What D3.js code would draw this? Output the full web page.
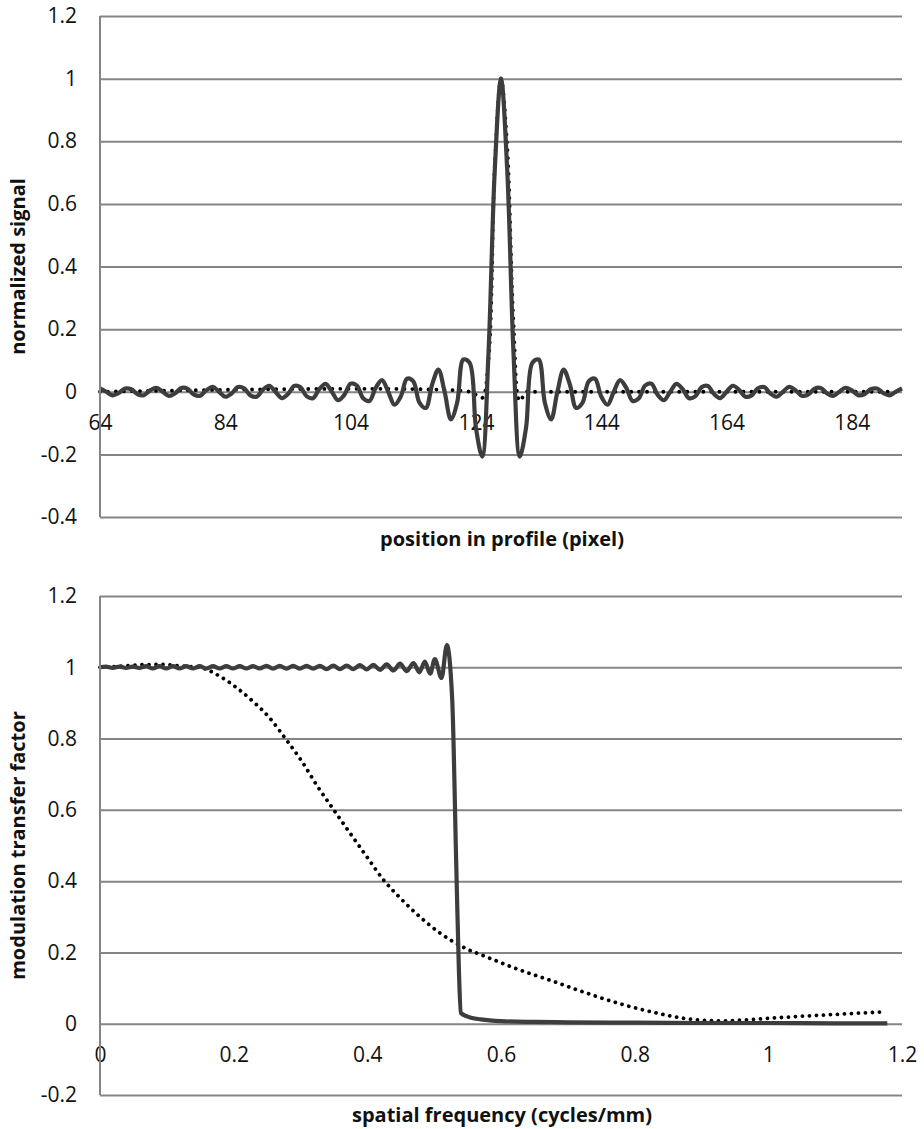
<!DOCTYPE html>
<html>
<head>
<meta charset="utf-8">
<script src="https://cdn.jsdelivr.net/npm/d3@7"></script>
<style>
  body { margin: 0; background: #fff; }
  text { font-family: "Open Sans", sans-serif; fill: #111; }
  .tick line { stroke: #858585; stroke-width: 2; }
  .tick text { font-size: 21px; }
  .title { font-size: 20px; font-weight: bold; }
</style>
</head>
<body>
<svg width="924" height="1129"></svg>
<script>
var svg = d3.select("svg");

// ---- top chart: profile ----
var profPos = d3.range(64, 193);
var profSolid = [
  0.0110, 0, -0.0114, -0.0040, 0.0103, 0.0078, -0.0079, -0.0109, 0.0044, 0.0128,
  0, -0.0133, -0.0047, 0.0122, 0.0092, -0.0094, -0.0129, 0.0052, 0.0153, 0,
  -0.0160, -0.0057, 0.0148, 0.0112, -0.0115, -0.0159, 0.0064, 0.0191, 0, -0.0201,
  -0.0072, 0.0188, 0.0144, -0.0148, -0.0207, 0.0084, 0.0252, 0, -0.0271, -0.0098,
  0.0258, 0.0200, -0.0209, -0.0295, 0.0122, 0.0371, 0, -0.0415, -0.0153, 0.0414,
  0.0329, -0.0354, -0.0517, 0.0223, 0.0705, 0, -0.088, -0.035, 0.103, 0.092,
  -0.115, -0.207, 0.122, 0.705,
  1,
  0.705, 0.122, -0.207, -0.115, 0.092, 0.103, -0.035, -0.088, 0, 0.0705,
  0.0223, -0.0517, -0.0354, 0.0329, 0.0414, -0.0153, -0.0415, 0, 0.0371, 0.0122,
  -0.0295, -0.0209, 0.0200, 0.0258, -0.0098, -0.0271, 0, 0.0252, 0.0084, -0.0207,
  -0.0148, 0.0144, 0.0188, -0.0072, -0.0201, 0, 0.0191, 0.0064, -0.0159, -0.0115,
  0.0112, 0.0148, -0.0057, -0.0160, 0, 0.0153, 0.0052, -0.0129, -0.0094, 0.0092,
  0.0122, -0.0047, -0.0133, 0, 0.0128, 0.0044, -0.0109, -0.0079, 0.0078, 0.0103,
  -0.0040, -0.0114, 0, 0.0110
];
var profDotPos = [64, 123, 124, 125, 126, 127, 128, 129, 130, 131, 132, 133, 192];
var profDotVal = [0, 0, -0.01, -0.02, 0.1, 0.72, 1, 0.78, 0.22, -0.03, 0, 0, 0];
var profXTicks = [64, 84, 104, 124, 144, 164, 184];
var profYTicks = [-0.4, -0.2, 0, 0.2, 0.4, 0.6, 0.8, 1, 1.2];

// ---- bottom chart: MTF ----
var mtfFreq = [0, 0.009, 0.019, 0.029, 0.039, 0.049, 0.059, 0.069, 0.079, 0.089, 0.099,
  0.109, 0.119, 0.129, 0.139, 0.149, 0.159, 0.169, 0.179, 0.189, 0.199,
  0.209, 0.219, 0.229, 0.239, 0.249, 0.259, 0.269, 0.279, 0.289, 0.299,
  0.309, 0.319, 0.329, 0.339, 0.349, 0.359, 0.369, 0.379, 0.389, 0.399,
  0.409, 0.419, 0.429, 0.439, 0.449, 0.459, 0.469, 0.478, 0.486, 0.494,
  0.501, 0.511, 0.519, 0.527, 0.533, 0.537, 0.540, 0.550, 0.570, 0.600,
  0.650, 0.700, 0.800, 0.900, 1.000, 1.100, 1.178];
var mtfSolid = [1.0, 1.002, 0.998, 1.002, 0.998, 1.002, 0.998, 1.003, 0.997, 1.003, 0.997,
  1.003, 0.997, 1.003, 0.997, 1.003, 0.997, 1.003, 0.997, 1.003, 0.997,
  1.003, 0.997, 1.003, 0.997, 1.004, 0.996, 1.004, 0.996, 1.004, 0.996,
  1.004, 0.996, 1.004, 0.995, 1.005, 0.995, 1.005, 0.995, 1.006, 0.994,
  1.007, 0.993, 1.008, 0.991, 1.010, 0.989, 1.012, 0.986, 1.016, 0.982,
  1.023, 0.970, 1.062, 0.910, 0.450, 0.150, 0.030, 0.020, 0.012, 0.007,
  0.005, 0.004, 0.003, 0.002, 0.002, 0.001, 0.001];
var mtfDotFreq = [0, 0.03, 0.06, 0.09, 0.12, 0.15, 0.18, 0.205, 0.229, 0.252, 0.277,
  0.302, 0.324, 0.349, 0.374, 0.399, 0.424, 0.447, 0.481, 0.509, 0.541,
  0.579, 0.628, 0.678, 0.728, 0.778, 0.828, 0.878, 0.93, 0.96, 1.0,
  1.05, 1.1, 1.14, 1.172];
var mtfDot = [1.0, 1.003, 1.007, 1.008, 1.004, 0.999, 0.974, 0.942, 0.904, 0.862, 0.801,
  0.736, 0.670, 0.602, 0.535, 0.469, 0.404, 0.357, 0.296, 0.254, 0.217,
  0.187, 0.151, 0.119, 0.086, 0.056, 0.032, 0.014, 0.008, 0.010, 0.015,
  0.021, 0.026, 0.030, 0.033];
var mtfXTicks = [0, 0.2, 0.4, 0.6, 0.8, 1, 1.2];
var mtfYTicks = [-0.2, 0, 0.2, 0.4, 0.6, 0.8, 1, 1.2];

var fmt = function(d) { return String(+d.toFixed(1)); };

function drawPanel(o) {
  var x = d3.scaleLinear().domain(o.xDomain).range([100, 902]);
  var y = d3.scaleLinear().domain(o.yDomain).range(o.yRange);
  var g = svg.append("g");

  // horizontal gridlines + y labels
  g.append("g")
      .attr("transform", "translate(100,0)")
      .call(d3.axisLeft(y).tickValues(o.yTicks).tickSize(-802).tickPadding(23).tickFormat(fmt))
      .call(function(a) { a.select(".domain").remove(); });

  // x labels along y = 0
  g.append("g")
      .attr("transform", "translate(0," + y(0) + ")")
      .call(d3.axisBottom(x).tickValues(o.xTicks).tickSize(0).tickPadding(23).tickFormat(fmt))
      .call(function(a) { a.select(".domain").remove(); });

  g.selectAll(".tick text").attr("font-family", null).attr("font-size", null);

  var line = d3.line()
      .x(function(d) { return x(d[0]); })
      .y(function(d) { return y(d[1]); })
      .curve(o.curve);

  g.append("path")
      .datum(d3.zip(o.dotX, o.dotY))
      .attr("fill", "none")
      .attr("stroke", "#000")
      .attr("stroke-width", 3.8)
      .attr("stroke-linecap", "round")
      .attr("stroke-dasharray", "0.01," + o.dotGap)
      .attr("d", line);

  g.append("path")
      .datum(d3.zip(o.solidX, o.solidY))
      .attr("fill", "none")
      .attr("stroke", "#3d3d3d")
      .attr("stroke-width", 4.2)
      .attr("stroke-linejoin", "round")
      .attr("d", line);

  // vertical axis line drawn on top of the labels
  g.append("line")
      .attr("x1", 100).attr("x2", 100)
      .attr("y1", o.yRange[1]).attr("y2", o.yRange[0])
      .attr("stroke", "#858585")
      .attr("stroke-width", 2);

  g.append("text")
      .attr("class", "title")
      .attr("text-anchor", "middle")
      .attr("x", 502)
      .attr("y", o.xTitleY)
      .text(o.xTitle);

  g.append("text")
      .attr("class", "title")
      .attr("text-anchor", "middle")
      .attr("transform", "translate(25," + (o.yRange[0] + o.yRange[1]) / 2 + ") rotate(-90)")
      .text(o.yTitle);
}

drawPanel({
  xDomain: [64, 192], yDomain: [-0.4, 1.2], yRange: [517, 16],
  xTicks: profXTicks, yTicks: profYTicks,
  solidX: profPos, solidY: profSolid,
  dotX: profDotPos, dotY: profDotVal, dotGap: 8,
  curve: d3.curveCatmullRom.alpha(0.5),
  xTitle: "position in profile (pixel)", xTitleY: 546,
  yTitle: "normalized signal"
});

drawPanel({
  xDomain: [0, 1.2], yDomain: [-0.2, 1.2], yRange: [1095, 596],
  xTicks: mtfXTicks, yTicks: mtfYTicks,
  solidX: mtfFreq, solidY: mtfSolid,
  dotX: mtfDotFreq, dotY: mtfDot, dotGap: 7,
  curve: d3.curveMonotoneX,
  xTitle: "spatial frequency (cycles/mm)", xTitleY: 1122,
  yTitle: "modulation transfer factor"
});
</script>
</body>
</html>
